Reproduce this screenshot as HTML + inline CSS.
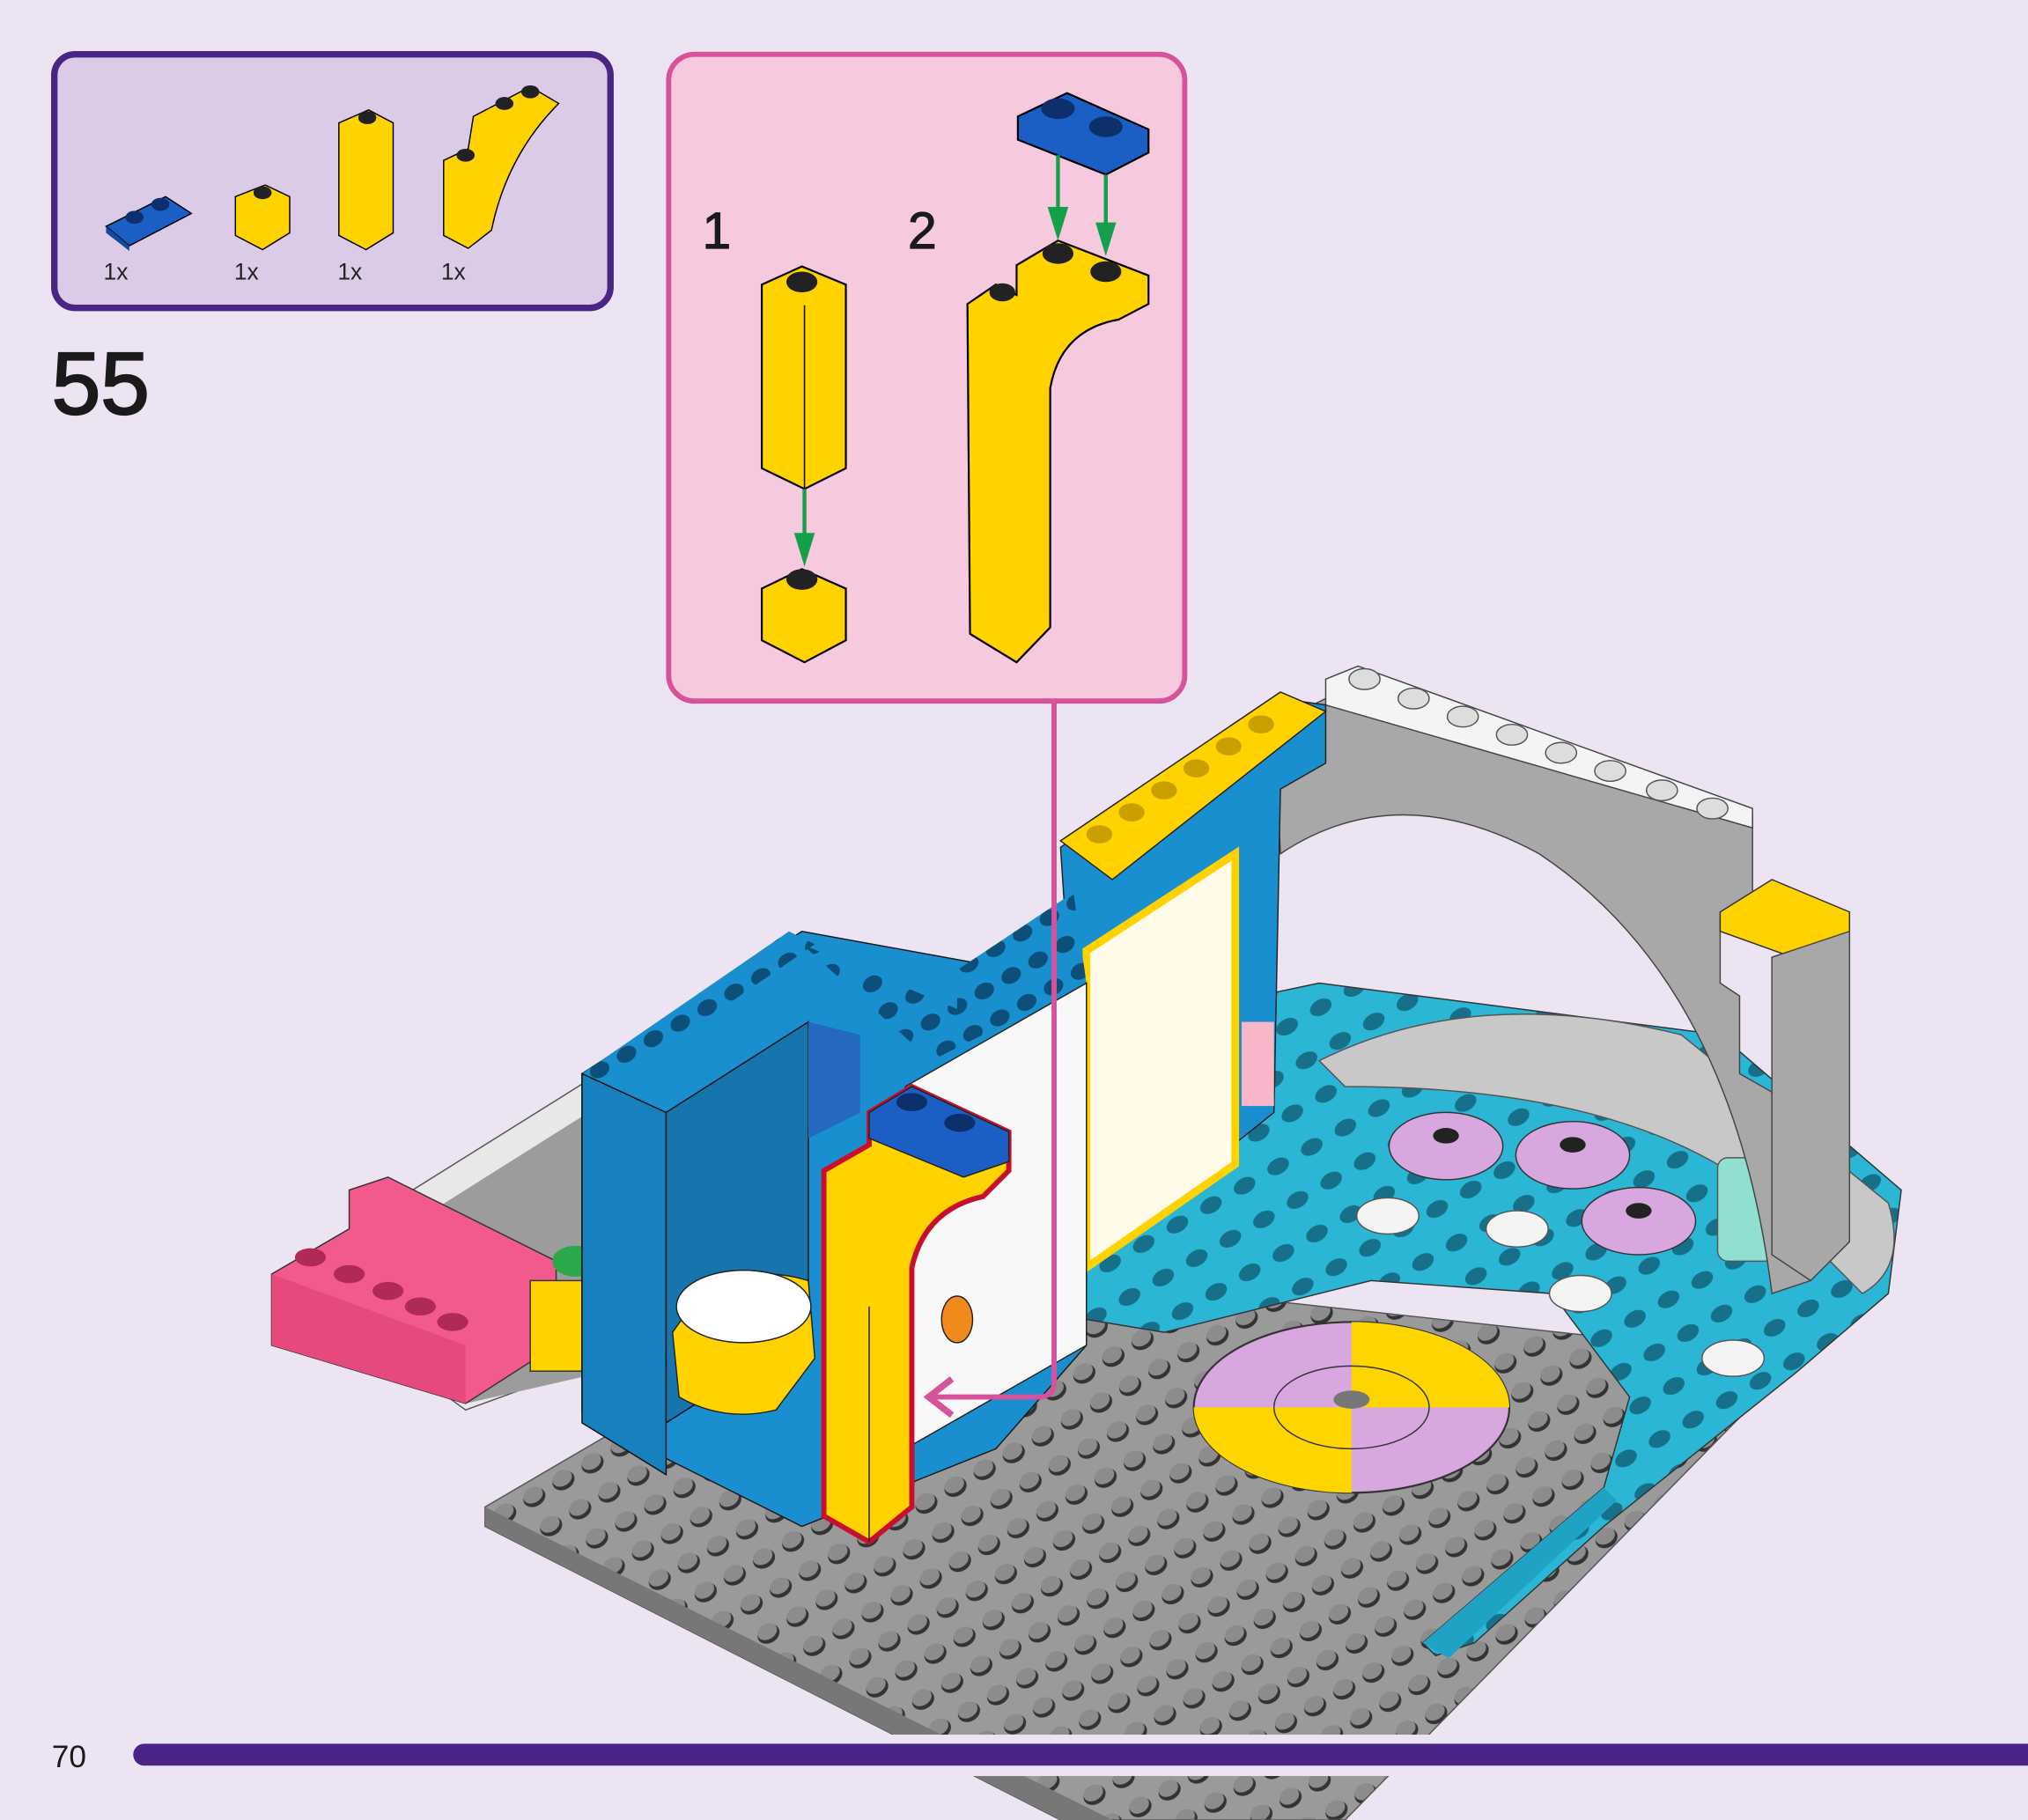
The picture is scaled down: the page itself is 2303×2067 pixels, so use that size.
<!DOCTYPE html>
<html><head><meta charset="utf-8"><style>
html,body{margin:0;padding:0;background:#ece4f3;}
svg{display:block}
text{font-family:"Liberation Sans",sans-serif;}
</style></head><body>
<svg width="2303" height="2067" viewBox="0 0 1568 1407" preserveAspectRatio="none" xmlns="http://www.w3.org/2000/svg">
<defs>
<pattern id="studs" width="26" height="26" patternUnits="userSpaceOnUse" patternTransform="rotate(-30)">
<rect width="26" height="26" fill="#9a9a9a"/>
<ellipse cx="13" cy="13" rx="9" ry="7" fill="#333"/>
<ellipse cx="13" cy="11" rx="8" ry="6" fill="#8c8c8c"/>
</pattern>
<pattern id="bstuds" width="24" height="24" patternUnits="userSpaceOnUse" patternTransform="rotate(-30)">
<rect width="24" height="24" fill="#1a8fcf"/>
<ellipse cx="12" cy="12" rx="8" ry="6" fill="#0b4f7a"/>
</pattern>
<pattern id="tstuds" width="30" height="30" patternUnits="userSpaceOnUse" patternTransform="rotate(-30)">
<rect width="30" height="30" fill="#2bb6d6"/>
<ellipse cx="15" cy="15" rx="9" ry="6" fill="#16708a"/>
</pattern>
</defs>
<rect width="1568" height="1407" fill="#ece4f3"/>

<!-- parts box -->
<rect x="42" y="42" width="430" height="196" rx="16" fill="#dccbe6" stroke="#4b2585" stroke-width="5"/>
<polygon points="82,175 128,152 148,165 100,190" fill="#1c5fc4" stroke="#000" stroke-width="1"/>
<polygon points="82,175 100,190 100,194 82,180" fill="#134a9a"/>
<ellipse cx="104" cy="168" rx="7" ry="5" fill="#0d2f6b"/><ellipse cx="124" cy="158" rx="7" ry="5" fill="#0d2f6b"/>
<polygon points="182,152 205,143 224,152 224,180 203,193 182,182" fill="#ffd200" stroke="#000" stroke-width="1"/>
<ellipse cx="203" cy="149" rx="7" ry="5" fill="#222"/>
<polygon points="262,95 285,85 304,95 304,180 283,193 262,182" fill="#ffd200" stroke="#000" stroke-width="1"/>
<ellipse cx="284" cy="91" rx="7" ry="5" fill="#222"/>
<path d="M343,124 L362,115 L366,90 L410,67 L432,80 Q392,120 380,178 L362,192 L343,182 Z" fill="#ffd200" stroke="#000" stroke-width="1"/>
<ellipse cx="360" cy="120" rx="7" ry="5" fill="#222"/><ellipse cx="390" cy="80" rx="7" ry="5" fill="#222"/><ellipse cx="410" cy="71" rx="7" ry="5" fill="#222"/>
<text x="80" y="216" font-size="18" fill="#222">1x</text>
<text x="181" y="216" font-size="18" fill="#222">1x</text>
<text x="261" y="216" font-size="18" fill="#222">1x</text>
<text x="341" y="216" font-size="18" fill="#222">1x</text>

<text x="40" y="320" font-size="68" fill="#1a1a1a" stroke="#1a1a1a" stroke-width="1.5">55</text>

<!-- callout -->
<rect x="517" y="42" width="399" height="500" rx="20" fill="#f6c9df" stroke="#d6529b" stroke-width="4"/>
<text x="543" y="192" font-size="40" fill="#1a1a1a" stroke="#1a1a1a" stroke-width="0.8">1</text>
<text x="702" y="192" font-size="40" fill="#1a1a1a" stroke="#1a1a1a" stroke-width="0.8">2</text>
<polygon points="589,220 620,206 654,220 654,362 622,378 589,362" fill="#ffd200" stroke="#000" stroke-width="1.5"/>
<line x1="622" y1="236" x2="622" y2="378" stroke="#000"/>
<ellipse cx="620" cy="218" rx="12" ry="8" fill="#222"/>
<polygon points="589,455 620,440 654,455 654,495 622,512 589,495" fill="#ffd200" stroke="#000" stroke-width="1.5"/>
<ellipse cx="620" cy="448" rx="12" ry="8" fill="#222"/>
<line x1="622" y1="378" x2="622" y2="425" stroke="#14a04a" stroke-width="3"/>
<polygon points="614,412 630,412 622,438" fill="#14a04a"/>
<path d="M748,235 L770,220 L786,228 L786,205 L818,186 L888,213 L888,235 L865,247 Q820,255 812,300 L812,485 L786,512 L750,490 Z" fill="#ffd200" stroke="#000" stroke-width="1.5"/>
<ellipse cx="775" cy="226" rx="10" ry="7" fill="#222"/><ellipse cx="818" cy="196" rx="12" ry="8" fill="#222"/><ellipse cx="855" cy="210" rx="12" ry="8" fill="#222"/>
<polygon points="787,90 825,72 888,100 888,118 855,135 787,108" fill="#1c5fc4" stroke="#000" stroke-width="1.5"/>
<ellipse cx="818" cy="84" rx="13" ry="8" fill="#0d2f6b"/><ellipse cx="855" cy="98" rx="13" ry="8" fill="#0d2f6b"/>
<line x1="818" y1="120" x2="818" y2="170" stroke="#14a04a" stroke-width="3"/>
<polygon points="810,160 826,160 818,186" fill="#14a04a"/>
<line x1="855" y1="135" x2="855" y2="180" stroke="#14a04a" stroke-width="3"/>
<polygon points="847,172 863,172 855,198" fill="#14a04a"/>

<!-- baseplate -->
<polygon points="375,1165 700,975 1390,1050 1040,1407 820,1407 375,1180" fill="url(#studs)" stroke="#555" stroke-width="1"/>
<polygon points="375,1165 375,1180 820,1407 860,1407" fill="#777"/>
<!-- left grey/white plate -->
<polygon points="215,985 455,835 470,845 470,1050 360,1090" fill="#e8e8e8" stroke="#555"/>
<polygon points="320,945 455,860 470,870 470,1060 360,1085" fill="#9c9c9c"/>
<!-- pink brick -->
<polygon points="210,985 270,950 270,920 300,910 430,975 430,1040 360,1085 210,1040" fill="#f25a8c" stroke="#333"/>
<polygon points="210,985 360,1040 360,1085 210,1040" fill="#e64a7c"/>
<g fill="#b02a58"><ellipse cx="240" cy="972" rx="12" ry="7"/><ellipse cx="270" cy="985" rx="12" ry="7"/><ellipse cx="300" cy="998" rx="12" ry="7"/><ellipse cx="325" cy="1010" rx="12" ry="7"/><ellipse cx="350" cy="1022" rx="12" ry="7"/></g>
<rect x="410" y="990" width="50" height="70" fill="#ffd200" stroke="#333"/>
<ellipse cx="445" cy="975" rx="18" ry="12" fill="#2aa84a"/>

<!-- teal floor & right area -->
<polygon points="830,800 1020,760 1330,800 1470,920 1460,1000 1390,1060 1240,1180 1140,1270 1110,1280 1100,1270 1240,1150 1260,1080 1200,1000 1060,990 900,1030 840,1020" fill="url(#tstuds)" stroke="#333" stroke-width="1"/>
<path d="M1020,820 Q1140,760 1300,800 L1460,930 Q1475,980 1440,1000 L1400,960 Q1300,840 1040,840 Z" fill="#c8c8c8" stroke="#555"/>
<polygon points="1100,1270 1240,1150 1250,1160 1120,1282" fill="#1fa3c4"/>
<!-- disc -->
<ellipse cx="1045" cy="1088" rx="122" ry="66" fill="#d9a7e0" stroke="#333" stroke-width="1.5"/>
<path d="M1045,1022 A122,66 0 0 1 1167,1088 L1045,1088 Z" fill="#ffd500"/>
<path d="M1045,1154 A122,66 0 0 1 923,1088 L1045,1088 Z" fill="#ffd500"/>
<ellipse cx="1045" cy="1088" rx="60" ry="32" fill="none" stroke="#333"/>
<ellipse cx="1045" cy="1082" rx="14" ry="7" fill="#777"/>
<!-- pink round tiles -->
<g fill="#d9a7e0" stroke="#333"><ellipse cx="1118" cy="886" rx="44" ry="26"/><ellipse cx="1216" cy="893" rx="44" ry="26"/><ellipse cx="1267" cy="944" rx="44" ry="26"/></g>
<g fill="#222"><ellipse cx="1118" cy="878" rx="10" ry="6"/><ellipse cx="1216" cy="885" rx="10" ry="6"/><ellipse cx="1267" cy="936" rx="10" ry="6"/></g>
<g fill="#f4f4f4" stroke="#555"><ellipse cx="1073" cy="940" rx="24" ry="14"/><ellipse cx="1173" cy="950" rx="24" ry="14"/><ellipse cx="1222" cy="1000" rx="24" ry="14"/><ellipse cx="1340" cy="1050" rx="24" ry="14"/></g>
<rect x="1328" y="895" width="44" height="80" rx="8" fill="#8fe0d0" stroke="#555"/>

<!-- gray arch -->
<path d="M985,560 L1025,540 L1355,630 L1355,700 L1330,710 L1330,760 L1345,770 L1345,830 L1380,850 L1400,840 L1400,990 L1370,1000 Q1340,760 1190,660 Q1080,600 990,660 Z" fill="#a8a8a8" stroke="#444"/>
<polygon points="1025,525 1050,515 1355,625 1355,640 1025,545" fill="#f4f4f4" stroke="#444"/>
<g fill="#ddd" stroke="#555"><ellipse cx="1055" cy="525" rx="12" ry="8"/><ellipse cx="1093" cy="540" rx="12" ry="8"/><ellipse cx="1131" cy="554" rx="12" ry="8"/><ellipse cx="1169" cy="568" rx="12" ry="8"/><ellipse cx="1207" cy="582" rx="12" ry="8"/><ellipse cx="1245" cy="596" rx="12" ry="8"/><ellipse cx="1285" cy="611" rx="12" ry="8"/><ellipse cx="1324" cy="625" rx="12" ry="8"/></g>
<polygon points="1330,705 1370,680 1430,705 1430,730 1400,745 1330,720" fill="#ffd200" stroke="#333"/>
<polygon points="1370,740 1430,720 1430,960 1400,990 1370,970" fill="#a8a8a8" stroke="#444"/>

<!-- back wall yellow/blue -->
<polygon points="820,655 990,540 1025,545 1025,590 990,610 985,860 960,880 850,960 840,960" fill="#1a8fcf" stroke="#222"/>
<polygon points="820,650 990,535 1025,550 860,680" fill="#ffd200" stroke="#222"/>
<g fill="#c9a000"><ellipse cx="850" cy="645" rx="10" ry="7"/><ellipse cx="875" cy="628" rx="10" ry="7"/><ellipse cx="900" cy="611" rx="10" ry="7"/><ellipse cx="925" cy="594" rx="10" ry="7"/><ellipse cx="950" cy="577" rx="10" ry="7"/><ellipse cx="975" cy="560" rx="10" ry="7"/></g>
<polygon points="840,735 955,660 955,900 840,980" fill="#fffbe8" stroke="#ffd200" stroke-width="6"/>
<rect x="960" y="790" width="25" height="65" fill="#f7b7c8"/>

<!-- front blue box -->
<polygon points="450,830 620,720 840,760 840,1040 770,1120 620,1180 500,1120 450,1090" fill="#1a8fcf" stroke="#1a1a1a"/>
<polygon points="450,830 610,720 630,730 470,840" fill="url(#bstuds)"/>
<polygon points="620,730 740,780 740,750 830,690 840,760 720,820" fill="url(#bstuds)"/>
<polygon points="450,830 515,860 515,1140 450,1100" fill="#1681bc" stroke="#111"/>
<polygon points="515,860 625,790 625,1030 515,1100" fill="#1675ad" stroke="#111"/>
<polygon points="625,790 665,800 665,860 625,880" fill="#2468c0"/>
<polygon points="700,840 840,760 840,1040 700,1120" fill="#f8f8f8" stroke="#222"/>
<!-- toilet -->
<path d="M520,1030 Q560,970 625,990 L630,1050 L600,1090 Q560,1100 525,1080 Z" fill="#ffd200" stroke="#222"/>
<ellipse cx="575" cy="1010" rx="52" ry="28" fill="#fff" stroke="#222"/>
<!-- orange knob -->
<ellipse cx="740" cy="1020" rx="12" ry="18" fill="#f08a1a" stroke="#222"/>

<!-- new yellow piece highlighted -->
<path d="M637,905 L672,885 L672,860 L705,840 L780,875 L780,905 L760,925 Q715,935 705,980 L705,1165 L672,1192 L637,1172 Z" fill="#ffd200" stroke="#c8102e" stroke-width="4"/>
<polygon points="672,860 705,840 780,875 780,898 745,910 672,880" fill="#1c5fc4" stroke="#222"/>
<ellipse cx="705" cy="852" rx="12" ry="7" fill="#0d2f6b"/><ellipse cx="742" cy="868" rx="12" ry="7" fill="#0d2f6b"/>
<line x1="672" y1="1010" x2="672" y2="1192" stroke="#222"/>

<!-- callout connector -->
<path d="M815,543 L815,1068 Q815,1080 803,1080 L722,1080" fill="none" stroke="#d6529b" stroke-width="4"/>
<path d="M736,1066 L718,1080 L736,1094" fill="none" stroke="#d6529b" stroke-width="5"/>

<!-- footer -->
<rect x="0" y="1341" width="1568" height="32" fill="#ece4f3"/>
<rect x="103" y="1348" width="1480" height="17" rx="8.5" fill="#4b2585"/>
<text x="40" y="1366" font-size="24" fill="#1a1a1a">70</text>
</svg>
</body></html>
